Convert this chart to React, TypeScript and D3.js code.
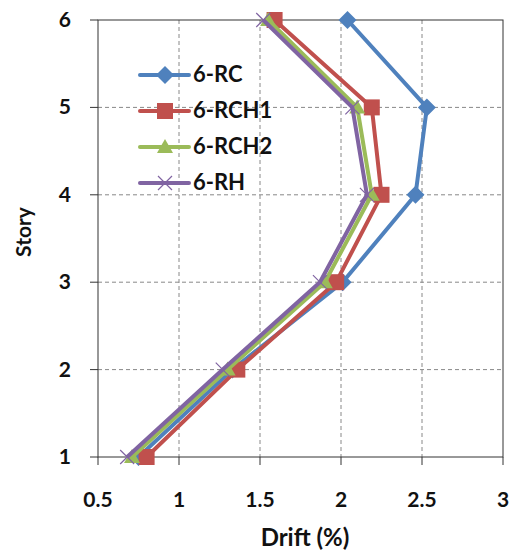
import React from "react";
import * as d3 from "d3";

const stories = [1, 2, 3, 4, 5, 6];
const rc = [0.75, 1.33, 2.01, 2.46, 2.53, 2.04];
const rch1 = [0.8, 1.36, 1.97, 2.25, 2.19, 1.59];
const rch2 = [0.71, 1.3, 1.9, 2.19, 2.1, 1.55];
const rh = [0.68, 1.27, 1.87, 2.16, 2.07, 1.52];
const xTicks = [0.5, 1, 1.5, 2, 2.5, 3];
const yTicks = [1, 2, 3, 4, 5, 6];

const seriesList = [
  { name: "6-RC", values: rc, color: "#4F81BD", marker: "diamond" },
  { name: "6-RCH1", values: rch1, color: "#C0504D", marker: "square" },
  { name: "6-RCH2", values: rch2, color: "#9BBB59", marker: "triangle" },
  { name: "6-RH", values: rh, color: "#8064A2", marker: "x" },
];

const W = 513, H = 554;
const L = 98, R = 503, T = 20, B = 457;
const FONT = "Lato, 'Open Sans', sans-serif";

function Marker({ type, x, y, color }: { type: string; x: number; y: number; color: string }) {
  if (type === "diamond") {
    const s = 9;
    return <path d={`M${x},${y - s}L${x + s},${y}L${x},${y + s}L${x - s},${y}Z`} fill={color} />;
  }
  if (type === "square") {
    const s = 8;
    return <rect x={x - s} y={y - s} width={2 * s} height={2 * s} fill={color} />;
  }
  if (type === "triangle") {
    const s = 8;
    return <path d={`M${x},${y - s}L${x + s},${y + s * 0.75}L${x - s},${y + s * 0.75}Z`} fill={color} />;
  }
  const s = 7;
  return (
    <path d={`M${x - s},${y - s}L${x + s},${y + s}M${x - s},${y + s}L${x + s},${y - s}`} stroke={color} strokeWidth={1.2} fill="none" />
  );
}

export default function App() {
  const x = d3.scaleLinear().domain([0.5, 3]).range([L, R]);
  const y = d3.scaleLinear().domain([1, 6]).range([B, T]);
  const line = d3
    .line<[number, number]>()
    .x((d) => x(d[0]))
    .y((d) => y(d[1]));

  const legendY = [75, 111, 147, 183];

  return (
    <svg width={W} height={H} style={{ position: "absolute", left: 0, top: 0 }}>
      <rect width={W} height={H} fill="#fff" />
      {xTicks.slice(1, -1).map((t) => (
        <line key={"gx" + t} x1={x(t)} x2={x(t)} y1={T} y2={B} stroke="#888" strokeDasharray="4,3" strokeWidth={1} />
      ))}
      {yTicks.slice(1, -1).map((t) => (
        <line key={"gy" + t} x1={L} x2={R} y1={y(t)} y2={y(t)} stroke="#888" strokeDasharray="4,3" strokeWidth={1} />
      ))}
      <rect x={L} y={T} width={R - L} height={B - T} fill="none" stroke="#333" strokeWidth={1} />
      {xTicks.map((t) => (
        <g key={"xt" + t}>
          <line x1={x(t)} x2={x(t)} y1={B} y2={B + 8} stroke="#333" />
          <text x={x(t)} y={507} textAnchor="middle" fontFamily={FONT} fontWeight="bold" fontSize={21} fill="#111">
            {t}
          </text>
        </g>
      ))}
      {yTicks.map((t) => (
        <g key={"yt" + t}>
          <line x1={L - 8} x2={L} y1={y(t)} y2={y(t)} stroke="#333" />
          <text x={71} y={y(t) + 7} textAnchor="end" fontFamily={FONT} fontWeight="bold" fontSize={21} fill="#111">
            {t}
          </text>
        </g>
      ))}
      <text x={305} y={546} textAnchor="middle" fontFamily={FONT} fontWeight="bold" fontSize={24} fill="#111">
        Drift (%)
      </text>
      <text transform={`translate(31,232) rotate(-90)`} textAnchor="middle" fontFamily={FONT} fontWeight="bold" fontSize={21} fill="#111">
        Story
      </text>
      {seriesList.map((s) => {
        const pts: [number, number][] = s.values.map((v, i) => [v, stories[i]]);
        return (
          <g key={s.name}>
            <path d={line(pts) || ""} fill="none" stroke={s.color} strokeWidth={4} strokeLinejoin="round" />
            {pts.map((p, i) => (
              <Marker key={i} type={s.marker} x={x(p[0])} y={y(p[1])} color={s.color} />
            ))}
          </g>
        );
      })}
      {seriesList.map((s, i) => (
        <g key={"lg" + s.name}>
          <line x1={140} x2={189} y1={legendY[i]} y2={legendY[i]} stroke={s.color} strokeWidth={4} strokeLinecap="round" />
          <Marker type={s.marker} x={165} y={legendY[i]} color={s.color} />
          <text x={193} y={legendY[i] + 7} fontFamily={FONT} fontWeight="bold" fontSize={22} fill="#111">
            {s.name}
          </text>
        </g>
      ))}
    </svg>
  );
}
